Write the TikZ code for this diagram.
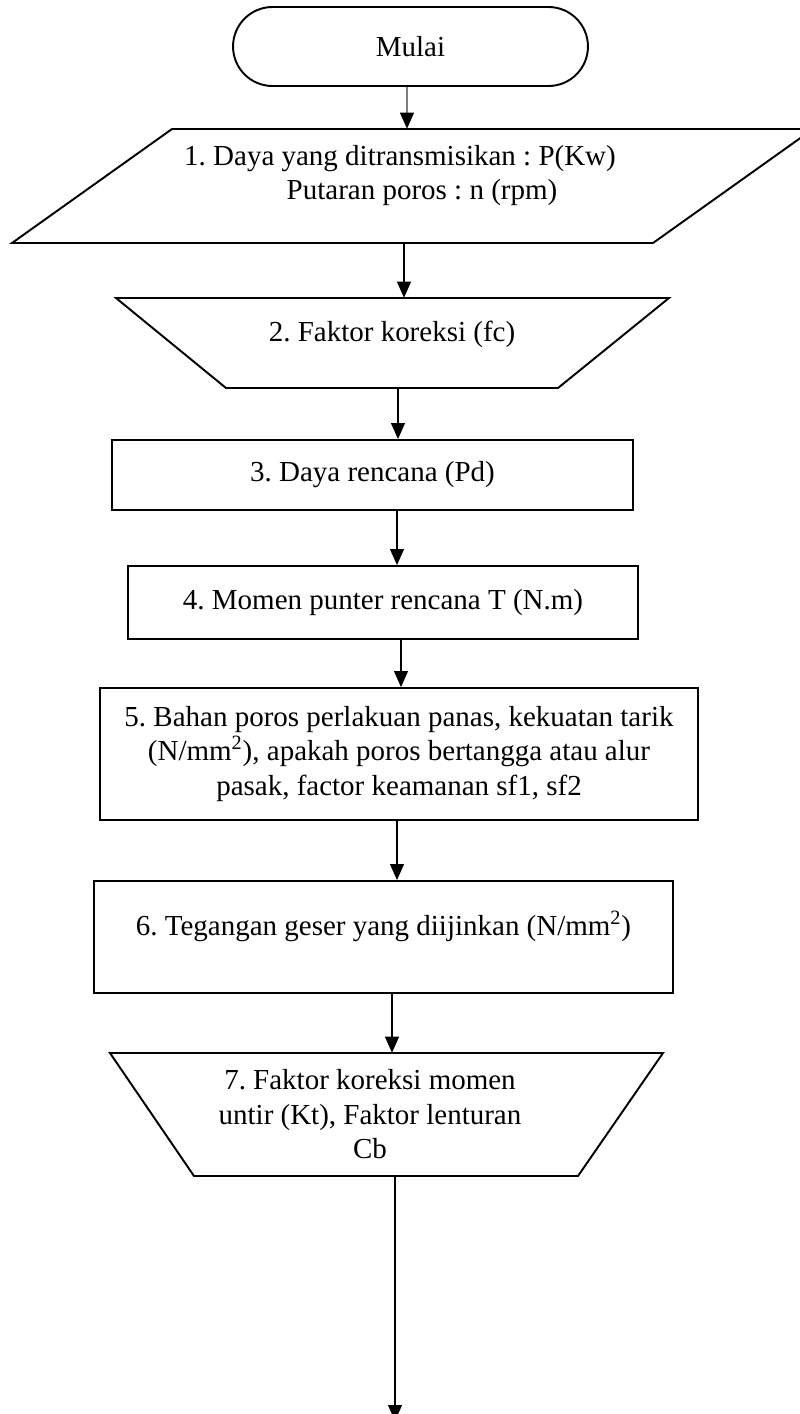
\documentclass[tikz,border=0pt]{standalone}
\usepackage{fontspec}
\setmainfont{Liberation Serif}
\usetikzlibrary{arrows.meta}
\frenchspacing

\begin{document}
\begin{tikzpicture}[x=0.02cm, y=-0.02cm,
  font=\fontsize{16.5}{19.6}\selectfont,
  >={Triangle[width=0.28cm, length=0.32cm]},
  outline/.style={line width=1.1pt, line join=miter},
  stepbox/.style={outline, draw, rectangle, align=center},
  inside/.style={align=center, inner sep=0pt},
  flow/.style={->, line width=0.6pt}]

  \useasboundingbox (0, 0) rectangle (800, 1414);
  \clip (0, 0) rectangle (800, 1414);

  \node[stepbox, rounded corners=0.79cm, minimum width=7.1cm, minimum height=1.58cm]
    (start) at (410.5, 46.5) {Mulai};

  % input
  \draw[outline] (172, 129) -- (813, 129) -- (653, 243) -- (12, 243) -- cycle;
  \node[inside, minimum height=2.28cm, text depth=0.55cm] (io1) at (400, 186)
    {1. Daya yang ditransmisikan : P(Kw)\\\hspace*{0.88cm}Putaran poros : n (rpm)};

  % manual steps
  \draw[outline] (116, 298) -- (669, 298) -- (558, 388) -- (226, 388) -- cycle;
  \node[inside, minimum height=1.8cm, text depth=0.45cm] (fc) at (392, 343)
    {2. Faktor koreksi (fc)};

  \node[stepbox, minimum width=10.42cm, minimum height=1.4cm] (s3) at (372.5, 475)
    {3. Daya rencana (Pd)};
  \node[stepbox, minimum width=10.2cm, minimum height=1.46cm] (s4) at (383, 602.5)
    {4. Momen punter rencana T (N.m)};
  \node[stepbox, minimum width=11.96cm, minimum height=2.64cm] (s5) at (399, 754)
    {5. Bahan poros perlakuan panas, kekuatan tarik\\
     (N/mm\textsuperscript{2}), apakah poros bertangga atau alur\\
     pasak, factor keamanan sf1, sf2};
  \node[stepbox, minimum width=11.58cm, minimum height=2.24cm, text depth=0.53cm]
    (s6) at (383.5, 937) {6. Tegangan geser yang diijinkan (N/mm\textsuperscript{2})};

  \draw[outline] (110, 1053) -- (663, 1053) -- (578, 1176) -- (194, 1176) -- cycle;
  \node[inside, minimum height=2.46cm] (t7) at (370, 1114.5)
    {7. Faktor koreksi momen\\untir (Kt), Faktor lenturan\\Cb};

  \coordinate (next) at (395, 1421);

  \draw[flow, gray, -{Triangle[width=0.28cm, length=0.32cm, black]}]
    (start.south -| 407,0) -- (io1.north -| 407,0);
  \foreach \a/\b/\x in {io1/fc/404, fc/s3/398, s3/s4/397, s4/s5/401, s5/s6/397, s6/t7/392}
    \draw[flow] (\a.south -| \x,0) -- (\b.north -| \x,0);
  \draw[flow] (t7.south -| next) -- (next);

\end{tikzpicture}
\end{document}
